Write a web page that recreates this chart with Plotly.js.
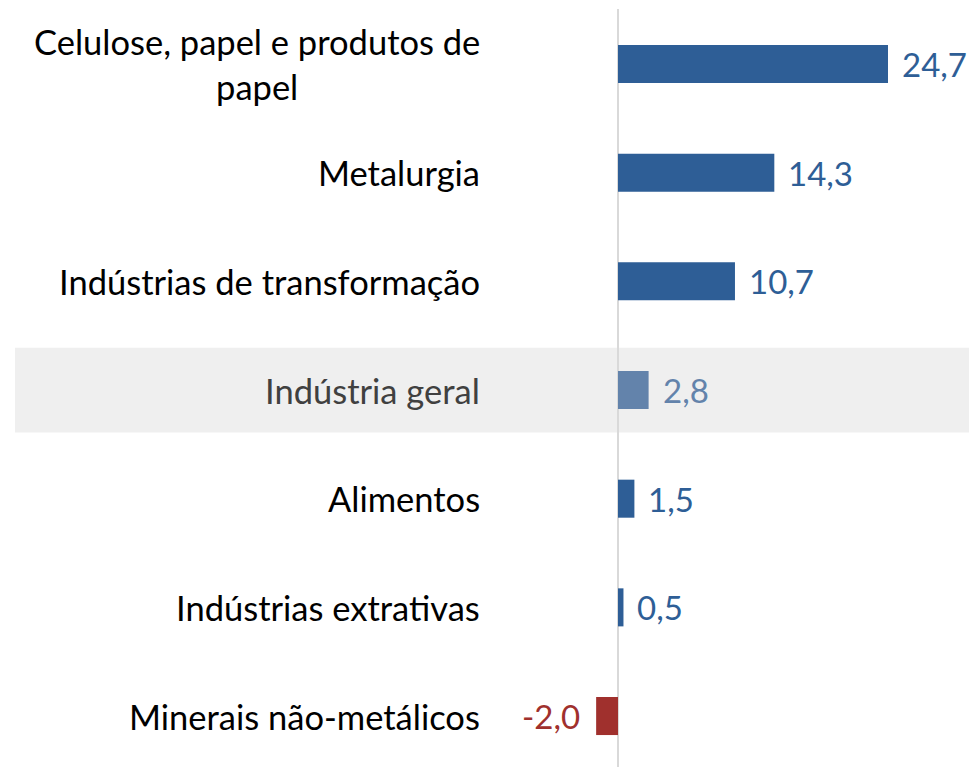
<!DOCTYPE html>
<html>
<head>
<meta charset="utf-8">
<script src="https://cdn.plot.ly/plotly-3.0.1.min.js"></script>
<style>
  html, body { margin: 0; padding: 0; background: #fff; }
  #chart { width: 969px; height: 767px; }
</style>
</head>
<body>
<div id="chart"></div>
<script>
// categories from bottom to top
const categories = [
  'Minerais não-metálicos',
  'Indústrias extrativas',
  'Alimentos',
  'Indústria geral',
  'Indústrias de transformação',
  'Metalurgia',
  'Celulose, papel e produtos de<br>papel'
];
const values = [-2.0, 0.5, 1.5, 2.8, 10.7, 14.3, 24.7];
const highlighted = 'Indústria geral';

const FONT = 'Lato, "Open Sans", sans-serif';
const BLUE = '#2E5E96';
const LIGHT_BLUE = '#6383AB';
const RED = '#A0302D';

const barColor = (cat, v) => {
  if (cat === highlighted) return LIGHT_BLUE;
  return v < 0 ? RED : BLUE;
};

const fmt = v => v.toFixed(1).replace('.', ',');

const ypos = categories.map((c, i) => i);

const trace = {
  type: 'bar',
  orientation: 'h',
  y: ypos,
  x: values,
  width: 0.35,
  marker: { color: categories.map((c, i) => barColor(c, values[i])) },
  hoverinfo: 'skip'
};

const catLabels = categories.map((c, i) => ({
  xref: 'paper', yref: 'y',
  x: 0, y: ypos[i],
  xanchor: 'right', yanchor: 'middle',
  xshift: -8,
  align: 'center',
  showarrow: false,
  text: c,
  font: { family: FONT, size: 34.5, color: c === highlighted ? '#404040' : '#000000' }
}));

const valueLabels = values.map((v, i) => ({
  xref: 'x', yref: 'y',
  x: v, y: ypos[i],
  xanchor: v < 0 ? 'right' : 'left', yanchor: 'middle',
  xshift: v < 0 ? -14 : 12,
  showarrow: false,
  text: fmt(v),
  font: { family: FONT, size: 33, color: barColor(categories[i], v) }
}));

const hiIndex = categories.indexOf(highlighted);

const layout = {
  width: 969,
  height: 767,
  margin: { l: 490, r: 0, t: 9, b: 0 },
  paper_bgcolor: '#ffffff',
  plot_bgcolor: 'rgba(0,0,0,0)',
  showlegend: false,
  xaxis: {
    range: [-11.71, 32.11],
    showgrid: false,
    showticklabels: false,
    zeroline: true,
    zerolinecolor: '#D9D9D9',
    zerolinewidth: 2,
    fixedrange: true
  },
  yaxis: {
    range: [-0.469, 6.506],
    showgrid: false,
    showticklabels: false,
    zeroline: false,
    fixedrange: true
  },
  shapes: [{
    type: 'rect',
    xref: 'paper', yref: 'y',
    x0: -0.9917, x1: 1,
    y0: hiIndex - 0.39, y1: hiIndex + 0.39,
    fillcolor: '#EFEFEF',
    line: { width: 0 },
    layer: 'below'
  }],
  annotations: catLabels.concat(valueLabels)
};

Plotly.newPlot('chart', [trace], layout, { displayModeBar: false, staticPlot: true });
</script>
</body>
</html>
